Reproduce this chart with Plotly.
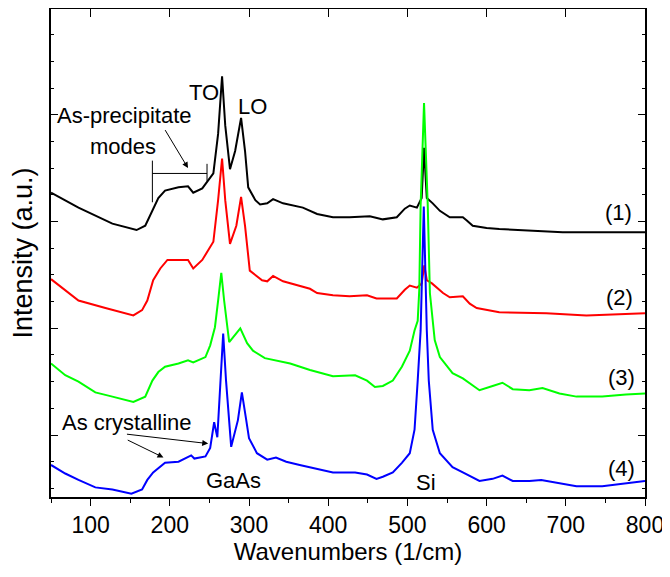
import plotly.graph_objects as go

# ---------------- data ----------------
wn_1 = [50, 84.7, 127.5, 158, 169, 178, 185.5, 194, 211, 223, 229.6, 241, 248.5, 255, 261, 266, 270, 276,
        282.5, 290, 295, 299, 308, 314, 323, 330.4, 343, 368, 386, 406, 427, 452.6, 469, 486.6, 496.7, 503,
        512, 518, 521, 524.5, 532, 541, 553.5, 570, 575, 582.5, 600, 616, 696, 800]
int_1 = [2.27, 2.13, 1.98, 1.92, 1.96, 2.10, 2.22, 2.29, 2.32, 2.33, 2.27, 2.31, 2.38, 2.45, 2.82, 3.36, 2.90, 2.49,
         2.66, 2.97, 2.66, 2.32, 2.20, 2.16, 2.17, 2.21, 2.17, 2.13, 2.07, 2.04, 2.04, 2.05, 2.02, 2.04, 2.12, 2.15,
         2.13, 2.22, 2.69, 2.22, 2.17, 2.10, 2.04, 2.04, 2.01, 1.96, 1.94, 1.93, 1.90, 1.90]

wn_2 = [50, 84.7, 118.7, 154, 165, 171.6, 179, 188, 197, 223, 229.6, 241, 255, 261, 266, 270, 276, 284, 290,
        295, 301, 316.5, 323, 330.4, 343, 377, 386, 406, 427, 449, 461, 486.6, 496.7, 503, 512, 518, 521.3,
        524.5, 531, 537, 545, 553.5, 570, 578.7, 587.5, 616, 675.5, 726, 800]
int_2 = [1.46, 1.26, 1.19, 1.12, 1.17, 1.26, 1.45, 1.56, 1.64, 1.64, 1.56, 1.64, 1.81, 2.20, 2.59, 2.20, 1.79, 1.96, 2.23,
         1.96, 1.54, 1.45, 1.44, 1.49, 1.44, 1.37, 1.33, 1.31, 1.30, 1.31, 1.28, 1.28, 1.36, 1.40, 1.38, 1.42, 1.59,
         1.45, 1.42, 1.38, 1.33, 1.29, 1.30, 1.23, 1.19, 1.15, 1.14, 1.12, 1.14]

wn_3 = [50, 68, 84.7, 106, 127.5, 154, 169, 178, 185.5, 194, 211, 223, 229.6, 245, 251, 257, 261, 265, 268.6,
        275, 289, 297.6, 305, 320, 352, 377, 406, 434, 449, 459, 469, 481.6, 493, 503, 509, 513, 515, 516.7,
        521, 525.7, 528.4, 532, 534.5, 541, 557, 570, 581, 591, 607.6, 620, 633, 654, 670.6, 692, 713.5, 746,
        776, 800]
int_3 = [0.67, 0.56, 0.50, 0.40, 0.36, 0.31, 0.36, 0.51, 0.59, 0.64, 0.67, 0.70, 0.68, 0.73, 0.84, 1.01, 1.26, 1.52, 1.26,
         0.87, 1.00, 0.86, 0.79, 0.72, 0.67, 0.61, 0.55, 0.56, 0.51, 0.45, 0.46, 0.51, 0.64, 0.79, 0.98, 1.07, 1.36, 2.15,
         3.11, 2.15, 1.33, 1.07, 0.89, 0.73, 0.58, 0.53, 0.47, 0.42, 0.46, 0.49, 0.43, 0.42, 0.44, 0.39, 0.36, 0.36,
         0.38, 0.39]

wn_4 = [50, 68, 84.7, 106, 127.5, 151.5, 165, 171.6, 179, 194, 211, 223, 227, 231, 245, 251, 256, 260, 263.6,
        267.4, 271, 277.5, 286, 291, 296.5, 300, 310, 323, 334, 347, 364, 386, 406, 434, 449, 461, 469, 481.6,
        493, 503, 509, 513, 516.7, 520.7, 524.5, 527, 532, 541, 557, 570, 581, 591, 607.6, 620, 633, 654, 669,
        692, 713.5, 746, 776, 800]
int_4 = [-0.28, -0.36, -0.42, -0.49, -0.51, -0.55, -0.51, -0.42, -0.35, -0.26, -0.25, -0.21, -0.19, -0.22, -0.20, -0.12,
         0.12, -0.02, 0.51, 0.95, 0.51, -0.11, 0.14, 0.40, 0.14, -0.03, -0.17, -0.23, -0.21, -0.25, -0.28, -0.32,
         -0.35, -0.35, -0.37, -0.41, -0.39, -0.35, -0.26, -0.17, 0.05, 0.51, 0.98, 2.14, 0.98, 0.51, 0.05, -0.17,
         -0.30, -0.35, -0.39, -0.43, -0.41, -0.38, -0.43, -0.43, -0.42, -0.45, -0.48, -0.48, -0.45, -0.43]

series = [
    ("(1)", wn_1, int_1, "#000000"),
    ("(2)", wn_2, int_2, "#ff0000"),
    ("(3)", wn_3, int_3, "#00ff00"),
    ("(4)", wn_4, int_4, "#0000ff"),
]
curve_labels = ["(1)", "(2)", "(3)", "(4)"]
curve_label_pos = [(766.5, 2.08), (768, 1.29), (770, 0.54), (770, -0.31)]

x_range = [50, 800]
y_range = [-0.58, 3.99]

FONT = "Arial, Liberation Sans, sans-serif"

fig = go.Figure()
for name, x, y, c in series:
    fig.add_trace(go.Scatter(x=x, y=y, mode="lines", name=name,
                             line=dict(color=c, width=2), showlegend=False))
# dummy trace to activate the mirror axes
fig.add_trace(go.Scatter(x=x_range, y=[None, None], xaxis="x2", yaxis="y2",
                         showlegend=False, hoverinfo="skip"))

ann = []
def text(x, y, s, size=22, xa="center", ya="middle"):
    ann.append(dict(x=x, y=y, xref="x", yref="y", text=s, showarrow=False,
                    font=dict(size=size, color="black", family=FONT),
                    xanchor=xa, yanchor=ya))

text(243.4, 3.21, "TO")
text(305, 3.08, "LO")
text(143, 2.99, "As-precipitate")
text(141, 2.70, "modes")
text(146.4, 0.12, "As crystalline")
text(281, -0.43, "GaAs")
text(523, -0.44, "Si")
for lab, (lx, ly) in zip(curve_labels, curve_label_pos):
    text(lx, ly, lab)

def arrow(x0, y0, x1, y1):
    ann.append(dict(x=x1, y=y1, ax=x0, ay=y0, xref="x", yref="y", axref="x", ayref="y",
                    showarrow=True, arrowhead=2, arrowsize=1.2, arrowwidth=1, arrowcolor="black", text=""))

arrow(193, 2.87, 223, 2.50)
arrow(144, 0.01, 248.5, -0.08)
arrow(145, -0.04, 192, -0.21)

shapes = []
def seg(x0, y0, x1, y1):
    shapes.append(dict(type="line", x0=x0, y0=y0, x1=x1, y1=y1, xref="x", yref="y",
                       line=dict(color="black", width=1)))
seg(178, 2.57, 178, 2.18)
seg(178, 2.45, 247, 2.45)
seg(247, 2.54, 247, 2.38)

axis_common = dict(showline=True, linecolor="black", linewidth=1.5, mirror=False,
                   showgrid=False, zeroline=False, automargin=False)

fig.update_layout(
    width=662, height=569,
    margin=dict(l=42.5, r=24.5, t=1, b=80, autoexpand=False),
    paper_bgcolor="white", plot_bgcolor="white",
    font=dict(family=FONT, color="black"),
    annotations=ann, shapes=shapes,
    xaxis=dict(range=x_range, tickmode="linear", tick0=100, dtick=100,
               ticks="outside", ticklen=7, tickwidth=1.2, tickcolor="black",
               minor=dict(ticks="outside", ticklen=4, dtick=50, tick0=50, tickcolor="black", tickwidth=1),
               tickfont=dict(size=23, family=FONT, color="black"),
               title=dict(text="Wavenumbers (1/cm)", font=dict(size=24, family=FONT, color="black"), standoff=4),
               **axis_common),
    xaxis2=dict(range=x_range, overlaying="x", side="top", tickmode="linear", tick0=100, dtick=100,
                ticks="inside", ticklen=8, tickwidth=1.2, tickcolor="black", showticklabels=False,
                **axis_common),
    yaxis=dict(range=y_range, tickmode="linear", tick0=0, dtick=1, showticklabels=False,
               ticks="inside", ticklen=7, tickwidth=1.2, tickcolor="black",
               minor=dict(ticks="inside", ticklen=3, dtick=0.25, tickcolor="black", tickwidth=1),
               title=dict(text="Intensity (a.u.)", font=dict(size=27, family=FONT, color="black"), standoff=12),
               **axis_common),
    yaxis2=dict(range=y_range, overlaying="y", side="right", tickmode="linear", tick0=0, dtick=1,
                showticklabels=False, ticks="inside", ticklen=7, tickwidth=1.2, tickcolor="black",
                minor=dict(ticks="inside", ticklen=3, dtick=0.25, tickcolor="black", tickwidth=1),
                **axis_common),
)

fig.write_html("out.html")
